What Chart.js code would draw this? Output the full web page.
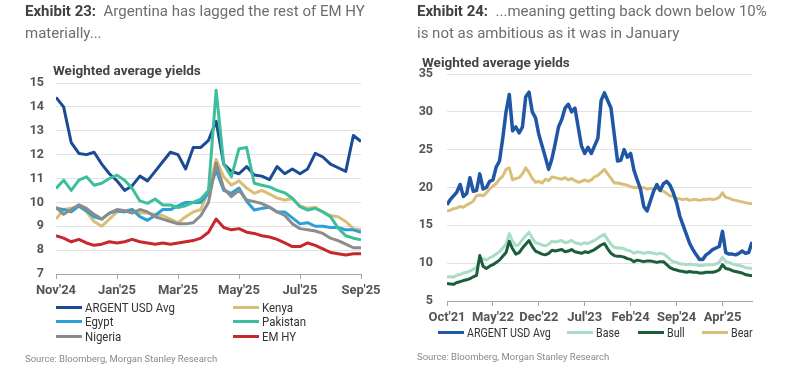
<!DOCTYPE html>
<html>
<head>
<meta charset="utf-8">
<script src="https://cdn.jsdelivr.net/npm/chart.js@4.4.1/dist/chart.umd.min.js"></script>
<style>
  body { margin: 0; background: #fff; font-family: Roboto, "Noto Sans", sans-serif; }
  #page { position: relative; width: 800px; height: 378px; overflow: hidden; }
  canvas { position: absolute; top: 0; }
  .t { position: absolute; white-space: nowrap; }
  .title { font-size: 15px; color: #6e6e6e; line-height: 22px; }
  .title b { color: #404040; }
  .sub { font-size: 13.5px; font-weight: bold; color: #444; line-height: 15px; }
  .src { font-size: 9.5px; color: #8a8a8a; line-height: 12px; }
  .leg { position: absolute; font-size: 13px; color: #333; white-space: nowrap; line-height: 14px; }
  .leg i { display: inline-block; width: 26px; height: 3px; vertical-align: middle; margin-right: 3px; margin-top: -2px; }
  .leg span { display: inline-block; transform: scaleX(0.88); transform-origin: left center; }
  .leg.small span { transform: scaleX(0.82); }
</style>
</head>
<body>
<div id="page">
  <canvas id="left" width="400" height="378" style="left:0"></canvas>
  <canvas id="right" width="400" height="378" style="left:400px"></canvas>

  <div class="t title" style="left:25px;top:0">
    <b>Exhibit 23:</b>&nbsp; Argentina has lagged the rest of EM HY<br>materially...
  </div>
  <div class="t title" style="left:417px;top:0">
    <b>Exhibit 24:</b>&nbsp; ...meaning getting back down below 10%<br>is not as ambitious as it was in January
  </div>
  <div class="t sub" style="left:53px;top:63px">Weighted average yields</div>
  <div class="t sub" style="left:422px;top:55px">Weighted average yields</div>
  <div class="t src" style="left:25px;top:353px">Source: Bloomberg, Morgan Stanley Research</div>
  <div class="t src" style="left:417px;top:351px">Source: Bloomberg, Morgan Stanley Research</div>
</div>

<script>
// ---- Exhibit 23 (quarter-month steps, Nov'24 -> Sep'25)
const xLabelsL = ["Nov'24", "Jan'25", "Mar'25", "May'25", "Jul'25", "Sep'25"];
const argentL = [14.4, 14.0, 12.5, 12.05, 12.0, 12.1, 11.6, 11.2, 10.9, 10.5, 10.7, 11.1, 10.9, 11.3, 11.7, 12.1, 12.0, 11.4, 12.3, 12.3,
  12.6, 13.4, 11.6, 11.3, 11.2, 11.5, 11.15, 11.1, 10.95, 11.5, 11.2, 11.4, 11.2, 11.4, 12.05, 11.9, 11.6, 11.45, 11.3, 12.8, 12.55];
const kenya = [9.3, 9.7, 9.75, 9.85, 9.6, 9.2, 9.0, 9.3, 9.6, 9.65, 9.7, 9.55, 9.55, 9.5, 9.45, 9.3, 9.15, 9.4, 9.6, 9.7,
  10.5, 11.8, 11.07, 10.72, 10.9, 10.6, 10.38, 10.5, 10.35, 10.18, 10.1, 10.15, 9.85, 9.75, 9.8, 9.6, 9.45, 9.4, 9.2, 8.9, 8.85];
const egypt = [9.75, 9.7, 9.6, 9.85, 9.65, 9.4, 9.3, 9.55, 9.65, 9.6, 9.7, 9.4, 9.25, 9.45, 9.7, 9.7, 9.85, 10.0, 10.0, 10.0,
  10.4, 11.35, 10.5, 10.38, 10.6, 10.05, 9.68, 9.75, 9.8, 9.6, 9.6, 9.35, 9.1, 9.15, 9.0, 9.0, 8.95, 8.95, 8.85, 8.85, 8.75];
const pakistan = [10.58, 10.93, 10.5, 10.93, 11.07, 10.72, 10.8, 11.0, 11.14, 10.93, 10.58, 10.06, 9.96, 10.14, 9.89, 9.89, 9.78, 9.86, 10.0, 10.14,
  10.5, 14.7, 11.6, 11.07, 12.25, 12.3, 10.8, 10.72, 10.65, 10.5, 10.4, 10.17, 9.82, 9.68, 9.75, 9.6, 9.4, 8.92, 8.6, 8.5, 8.43];
const nigeria = [9.8, 9.5, 9.7, 9.9, 9.75, 9.5, 9.3, 9.55, 9.7, 9.65, 9.55, 9.7, 9.6, 9.4, 9.3, 9.2, 9.1, 9.1, 9.15, 9.45,
  10.0, 11.65, 10.58, 10.24, 10.5, 10.1, 10.03, 9.95, 9.8, 9.6, 9.45, 9.1, 8.9, 8.85, 8.8, 8.7, 8.5, 8.4, 8.25, 8.1, 8.1];
const emhy = [8.6, 8.5, 8.35, 8.45, 8.3, 8.2, 8.25, 8.35, 8.3, 8.35, 8.45, 8.35, 8.3, 8.25, 8.3, 8.25, 8.3, 8.35, 8.4, 8.5,
  8.75, 9.3, 8.95, 8.85, 8.9, 8.75, 8.7, 8.6, 8.55, 8.45, 8.3, 8.15, 8.15, 8.3, 8.2, 8.05, 7.9, 7.85, 7.8, 7.85, 7.85];

// ---- Exhibit 24 (half-month steps, Oct'21 -> Aug'25)
const xLabelsR = ["Oct'21", "May'22", "Dec'22", "Jul'23", "Feb'24", "Sep'24", "Apr'25"];
const argentR = [17.7, 18.4, 18.9, 19.4, 20.4, 18.8, 19.2, 21.3, 19.5, 19.6,
  21.8, 19.8, 20.0, 20.8, 21.0, 22.7, 23.5, 26.5, 30.0, 32.3,
  27.5, 28.0, 27.2, 28.0, 32.0, 32.6, 30.0, 29.2, 27.0, 25.5,
  24.0, 22.4, 23.8, 25.8, 28.0, 29.0, 30.5, 31.0, 30.0, 30.5,
  28.0, 25.5, 24.5, 25.3, 24.5, 25.5, 26.5, 31.5, 32.5, 31.5,
  30.5, 27.0, 23.5, 23.6, 25.0, 24.0, 24.5, 22.3, 21.0, 19.8,
  17.5, 16.9, 18.2, 19.5, 20.4, 19.6, 20.5, 20.8, 20.3, 19.3,
  18.0, 16.2, 15.0, 13.8, 12.6, 11.8, 11.1, 10.5, 10.5, 11.1,
  11.4, 11.8, 12.0, 12.2, 14.2, 11.4, 11.2, 11.2, 11.1, 11.3,
  11.6, 11.3, 11.4, 12.8];
const base = [8.2, 8.2, 8.15, 8.4, 8.5, 8.7, 8.8, 8.95, 9.2, 9.4,
  10.6, 10.6, 10.4, 10.7, 10.9, 11.2, 11.5, 12.0, 12.5, 13.9,
  12.9, 12.3, 12.5, 13.1, 13.6, 14.1, 13.3, 12.7, 12.6, 12.4,
  12.3, 12.5, 12.9, 12.8, 12.9, 13.0, 12.7, 12.8, 13.0, 12.7,
  12.6, 12.5, 12.7, 12.6, 12.8, 13.0, 13.3, 13.6, 13.8, 13.1,
  12.5, 12.1, 12.0, 12.0, 11.9, 11.7, 11.6, 11.3, 11.5, 11.4,
  11.3, 11.4, 11.4, 11.3, 11.2, 11.3, 11.2, 10.9, 10.5, 10.2,
  10.1, 9.9, 9.9, 9.8, 9.9, 9.8, 9.8, 9.7, 9.7, 9.8,
  9.8, 9.8, 9.9, 10.1, 10.8, 10.2, 10.1, 9.9, 9.8, 9.7,
  9.6, 9.4, 9.35, 9.3];
const bull = [7.3, 7.25, 7.2, 7.45, 7.55, 7.7, 7.8, 7.95, 8.2, 8.4,
  11.0, 9.6, 9.3, 9.6, 9.8, 10.1, 10.4, 10.9, 11.4, 12.9,
  11.9, 11.2, 11.4, 12.0, 12.5, 13.0, 12.2, 11.6, 11.4, 11.2,
  11.1, 11.3, 11.7, 11.6, 11.7, 11.8, 11.5, 11.6, 11.8, 11.5,
  11.4, 11.3, 11.5, 11.4, 11.6, 11.8, 12.1, 12.4, 12.6, 11.9,
  11.3, 11.0, 10.9, 10.9, 10.8, 10.6, 10.5, 10.2, 10.4, 10.3,
  10.2, 10.3, 10.3, 10.2, 10.1, 10.2, 10.2, 9.8, 9.4, 9.2,
  9.1, 8.95, 8.9, 8.8, 8.9, 8.8, 8.8, 8.7, 8.7, 8.8,
  8.8, 8.8, 8.9, 9.1, 9.8, 9.3, 9.2, 9.0, 8.9, 8.8,
  8.7, 8.5, 8.4, 8.35];
const bear = [16.9, 17.0, 17.2, 17.3, 17.5, 17.4, 17.7, 17.9, 18.2, 18.9,
  19.0, 18.9, 19.3, 19.8, 20.2, 20.5, 21.1, 21.5, 22.4, 22.6,
  21.0, 21.2, 21.3, 21.8, 22.6, 22.0, 21.2, 20.7, 20.8, 20.6,
  21.1, 20.9, 21.4, 21.3, 21.2, 21.1, 21.3, 21.0, 21.2, 20.9,
  20.7, 20.8, 21.0, 20.8, 21.0, 21.4, 21.6, 22.0, 22.4, 21.8,
  21.2, 20.6, 20.6, 20.5, 20.4, 20.3, 20.1, 20.0, 20.0, 19.9,
  20.0, 19.8, 19.9, 19.8, 19.9, 19.6, 19.5, 19.2, 18.9, 18.8,
  18.6, 18.5, 18.4, 18.5, 18.3, 18.4, 18.4, 18.3, 18.4, 18.4,
  18.5, 18.4, 18.5, 18.7, 19.3, 18.7, 18.6, 18.4, 18.3, 18.2,
  18.1, 18.0, 17.9, 17.9];

const pts = arr => arr.map((y, i) => ({ x: i, y: y }));
const tickFont = { family: 'Roboto', size: 12.5, weight: 'bold' };

function line(label, data, color, width, order) {
  return {
    label: label, data: pts(data), borderColor: color, backgroundColor: color,
    borderWidth: width, pointRadius: 0, tension: 0, borderJoinStyle: 'round', order: order
  };
}

function opts(xMax, step, labels, yMin, yMax, yStep, yWidth, pad, yPad) {
  return {
    responsive: false,
    animation: false,
    layout: { padding: pad },
    plugins: { legend: { display: false }, tooltip: { enabled: false } },
    scales: {
      x: {
        type: 'linear', min: 0, max: xMax,
        afterFit: s => { s.height = 24; },
        grid: { drawOnChartArea: false, drawTicks: true, tickLength: 5, color: '#a6a6a6' },
        border: { display: true, color: '#a6a6a6' },
        ticks: {
          stepSize: step, includeBounds: false, autoSkip: false, maxRotation: 0, padding: 4,
          color: '#555', font: { family: 'Roboto', size: 13, weight: 'bold' },
          callback: v => labels[v / step]
        }
      },
      y: {
        min: yMin, max: yMax,
        afterFit: s => { s.width = yWidth; },
        grid: { color: '#e2e2e2', drawTicks: false },
        border: { display: false },
        ticks: { stepSize: yStep, padding: yPad, color: '#555', font: tickFont }
      }
    }
  };
}

const leftSeries = [
  line('ARGENT USD Avg', argentL, '#1c4b96', 3, 6),
  line('Kenya', kenya, '#d9be76', 3, 5),
  line('Egypt', egypt, '#2aa0d9', 3, 4),
  line('Pakistan', pakistan, '#3dbf9c', 3, 2),
  line('Nigeria', nigeria, '#8c8c8c', 3, 3),
  line('EM HY', emhy, '#c6282e', 3, 1)
];
new Chart(document.getElementById('left'), {
  type: 'line',
  data: { datasets: leftSeries },
  options: opts(40, 8, xLabelsL, 7, 15, 1, 56, { left: 0, right: 39, top: 83, bottom: 80 }, 12)
});

const rightSeries = [
  line('ARGENT USD Avg', argentR, '#1f57a6', 3.5, 1),
  line('Base', base, '#a9dcc9', 3, 3),
  line('Bull', bull, '#1b5e3c', 3, 2),
  line('Bear', bear, '#d9bf7a', 3, 4)
];
new Chart(document.getElementById('right'), {
  type: 'line',
  data: { datasets: rightSeries },
  options: opts(93, 14, xLabelsR, 5, 35, 5, 47, { left: 0, right: 48, top: 74, bottom: 53 }, 14)
});

// html legends, two columns on the left, one row on the right
const page = document.getElementById('page');
function legendItem(ds, x, y, cls) {
  const d = document.createElement('div');
  d.className = 'leg' + (cls ? ' ' + cls : '');
  d.style.left = x + 'px';
  d.style.top = (y - 7) + 'px';
  d.innerHTML = '<i style="background:' + ds.borderColor + '"></i><span>' + ds.label + '</span>';
  page.appendChild(d);
}
legendItem(leftSeries[0], 56, 308);
legendItem(leftSeries[2], 56, 322);
legendItem(leftSeries[4], 56, 337);
legendItem(leftSeries[1], 233, 308);
legendItem(leftSeries[3], 233, 322);
legendItem(leftSeries[5], 233, 337);
legendItem(rightSeries[0], 438, 333, 'small');
legendItem(rightSeries[1], 567, 333, 'small');
legendItem(rightSeries[2], 638, 333, 'small');
legendItem(rightSeries[3], 702, 333, 'small');
</script>
</body>
</html>
